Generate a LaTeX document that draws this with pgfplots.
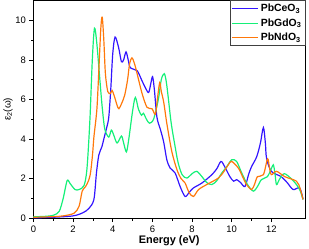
\documentclass[border=0pt]{standalone}
\usepackage{pgfplots}
\pgfplotsset{compat=1.18}
\usepackage{fontspec}
\setmainfont{Liberation Sans}
\definecolor{cblue}{RGB}{51,20,255}
\definecolor{cgreen}{RGB}{20,240,120}
\definecolor{corange}{RGB}{255,120,10}
\begin{document}
\begin{tikzpicture}
\begin{axis}[
  scale only axis,
  width=273pt, height=219pt,
  xmin=0, xmax=13.7, ymin=0, ymax=11,
  xtick={0,2,...,12}, ytick={0,2,...,10},
  minor x tick num=1, minor y tick num=1,
  tick align=outside, xtick pos=left, ytick pos=left,
  major tick length=4pt, minor tick length=2.5pt,
  tick style={black, line width=0.6pt},
  axis line style={line width=0.8pt},
  /pgf/number format/assume math mode=true,
  tick label style={font=\fontsize{9.5}{11}\selectfont},
  xlabel={\textbf{Energy (eV)}},
  ylabel={ε\textsubscript{2}(ω)},
  xlabel style={font=\fontsize{11}{13}\selectfont, yshift=4pt},
  ylabel style={font=\fontsize{10}{12}\selectfont, yshift=-4pt},
  legend style={at={(1,1)}, anchor=north east, draw=darkgray, font=\bfseries\fontsize{10.5}{12.5}\selectfont, inner sep=1.5pt, row sep=1.5pt},
  legend cell align=left,
  legend image post style={xscale=1.55, line width=0.9pt},
  every axis plot/.append style={line width=1.2pt, smooth, tension=0.5},
]
\addplot[cblue] coordinates {(0,0.02) (1.0,0.05) (2.0,0.12) (2.5,0.28) (2.8,0.5) (3.05,0.95) (3.18,2.3) (3.3,3.2) (3.45,3.6) (3.55,4.0) (3.7,4.6) (3.8,5.1) (3.9,6.5) (4.0,8.3) (4.12,9.15) (4.3,8.6) (4.44,7.9) (4.55,8.0) (4.67,8.4) (4.78,8.0) (4.89,7.6) (5.23,7.45) (5.45,7.0) (5.64,6.6) (5.81,6.35) (5.92,6.8) (6.01,7.15) (6.1,6.5) (6.23,5.1) (6.4,4.5) (6.57,3.85) (6.73,2.95) (6.9,2.53) (7.15,2.28) (7.4,1.6) (7.65,1.1) (7.85,1.3) (8.07,1.53) (8.5,1.78) (9.0,2.2) (9.25,2.5) (9.46,2.87) (9.65,2.6) (9.91,2.1) (10.1,1.87) (10.25,1.95) (10.45,1.8) (10.67,1.6) (10.85,2.2) (11.0,2.6) (11.26,3.1) (11.45,3.8) (11.6,4.58) (11.7,3.8) (11.76,3.03) (12.0,2.37) (12.5,2.1) (12.8,1.8) (13.1,1.45) (13.43,1.53) (13.6,0.96)};
\addlegendentry{PbCeO\textsubscript{3}}
\addplot[cgreen] coordinates {(0,0.08) (0.5,0.09) (1.0,0.15) (1.3,0.35) (1.5,1.0) (1.7,1.9) (1.85,1.75) (2.1,1.45) (2.3,1.45) (2.55,1.65) (2.7,2.5) (2.85,5.0) (2.97,8.0) (3.08,9.6) (3.2,8.8) (3.35,7.0) (3.47,5.6) (3.6,4.5) (3.8,4.1) (3.93,4.45) (4.05,4.2) (4.22,3.8) (4.44,4.15) (4.55,3.8) (4.69,3.35) (4.81,4.0) (5.0,5.4) (5.14,6.1) (5.3,5.5) (5.45,5.2) (5.55,5.3) (5.7,5.0) (5.85,4.8) (6.06,5.0) (6.3,6.0) (6.45,7.0) (6.6,7.3) (6.7,6.9) (6.8,6.1) (6.95,4.8) (7.15,3.6) (7.3,2.8) (7.5,2.2) (7.74,2.03) (8.0,2.25) (8.24,2.37) (8.5,2.1) (8.75,1.8) (9.0,1.7) (9.25,1.9) (9.5,2.28) (9.75,2.6) (10.0,2.95) (10.25,2.87) (10.5,2.3) (10.8,1.7) (11.09,1.37) (11.3,1.6) (11.5,1.95) (11.8,2.1) (12.0,2.5) (12.1,2.7) (12.18,2.3) (12.26,1.7) (12.4,1.95) (12.65,2.25) (13.0,2.0) (13.27,1.7) (13.45,1.4) (13.6,0.95)};
\addlegendentry{PbGdO\textsubscript{3}}
\addplot[corange] coordinates {(0,0.05) (1.0,0.08) (1.5,0.12) (2.04,0.25) (2.3,0.6) (2.46,1.37) (2.63,1.6) (2.78,1.9) (2.88,2.3) (2.98,3.2) (3.05,4.1) (3.2,5.5) (3.3,7.5) (3.4,9.6) (3.47,10.15) (3.55,9.0) (3.63,7.3) (3.75,6.4) (3.88,6.3) (3.97,6.45) (4.1,6.1) (4.22,5.7) (4.31,5.53) (4.45,5.8) (4.6,6.2) (4.75,7.0) (4.85,7.8) (4.97,8.1) (5.1,7.8) (5.23,7.3) (5.48,6.3) (5.73,5.6) (5.98,5.53) (6.15,5.25) (6.25,6.0) (6.37,6.85) (6.45,6.4) (6.57,5.87) (6.73,4.78) (6.98,3.37) (7.24,2.45) (7.45,2.0) (7.65,1.78) (7.85,1.3) (8.07,1.1) (8.33,1.45) (8.74,1.7) (9.33,2.03) (9.6,2.35) (9.83,2.7) (10.0,2.87) (10.34,2.53) (10.55,2.1) (10.75,1.7) (11.0,1.45) (11.15,1.7) (11.3,2.1) (11.6,2.2) (11.81,3.0) (11.9,2.6) (12.0,2.2) (12.26,2.37) (12.68,2.1) (13.27,1.87) (13.45,1.5) (13.6,0.95)};
\addlegendentry{PbNdO\textsubscript{3}}
\end{axis}
\path ([xshift=4pt]current axis.north east);
\end{tikzpicture}
\end{document}
